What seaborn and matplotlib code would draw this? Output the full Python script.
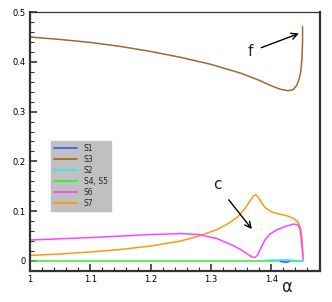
import numpy as np
import pandas as pd
import seaborn as sns
import matplotlib.pyplot as plt

# Curves (alpha vs value)
alpha_s3 = [1.0, 1.05, 1.1, 1.15, 1.2, 1.25, 1.3, 1.35, 1.38, 1.40, 1.415, 1.428,
            1.436, 1.442, 1.446, 1.449, 1.451, 1.452, 1.452]
s3 = [0.450, 0.445, 0.439, 0.431, 0.421, 0.409, 0.395, 0.377, 0.363, 0.352, 0.345, 0.342,
      0.344, 0.352, 0.364, 0.380, 0.405, 0.440, 0.471]

alpha_s7 = [1.0, 1.05, 1.1, 1.15, 1.2, 1.25, 1.28, 1.31, 1.33, 1.345, 1.357, 1.365, 1.37,
            1.374, 1.378, 1.383, 1.39, 1.40, 1.41, 1.426, 1.438, 1.445, 1.449, 1.451, 1.452, 1.453]
s7 = [0.011, 0.014, 0.018, 0.023, 0.030, 0.040, 0.050, 0.063, 0.076, 0.089, 0.106, 0.121, 0.130,
      0.133, 0.129, 0.119, 0.107, 0.099, 0.095, 0.091, 0.085, 0.077, 0.065, 0.045, 0.025, 0.012]

alpha_s6 = [1.0, 1.1, 1.2, 1.25, 1.28, 1.31, 1.337, 1.352, 1.362, 1.368, 1.373, 1.377, 1.383,
            1.39, 1.398, 1.41, 1.425, 1.437, 1.444, 1.448, 1.451, 1.453]
s6 = [0.042, 0.047, 0.053, 0.055, 0.053, 0.045, 0.031, 0.021, 0.013, 0.008, 0.007, 0.011, 0.026,
      0.043, 0.054, 0.063, 0.070, 0.074, 0.073, 0.062, 0.030, 0.002]

alpha_s45 = [1.0, 1.453]
s45 = [0.0, 0.0]

alpha_s2 = [1.39, 1.425, 1.453]
s2 = [0.0015, 0.002, 0.0]

alpha_s1 = [1.415, 1.425, 1.43]
s1 = [-0.001, -0.003, -0.001]

series = [
    ('S1', alpha_s1, s1, '#3366ff'),
    ('S3', alpha_s3, s3, '#9c6b30'),
    ('S2', alpha_s2, s2, '#33e8e8'),
    ('S4, S5', alpha_s45, s45, '#33ee33'),
    ('S6', alpha_s6, s6, '#ff44ff'),
    ('S7', alpha_s7, s7, '#ff9910'),
]

sns.set_style('ticks')
fig = plt.figure(figsize=(3.32, 3.02), dpi=100)
ax = fig.add_axes([0.09, 0.103, 0.874, 0.857])

# draw in back-to-front order so green/cyan sit on top near zero
draw_order = ['S3', 'S7', 'S6', 'S4, S5', 'S2', 'S1']
lookup = {name: (a, v, c) for name, a, v, c in series}
for name in draw_order:
    a, v, c = lookup[name]
    df = pd.DataFrame({'alpha': a, 'val': v})
    sns.lineplot(data=df, x='alpha', y='val', sort=False, estimator=None,
                 color=c, lw=1.1, ax=ax)

# legend in the same order as the reference
handles = [plt.Line2D([], [], color=c, lw=1.3) for _, _, _, c in series]
labels = [name for name, _, _, _ in series]
leg = ax.legend(handles, labels, loc='lower left', bbox_to_anchor=(0.058, 0.215),
                fontsize=5.5, frameon=True, fancybox=False, handlelength=3.0,
                labelspacing=0.26, borderpad=0.45, handletextpad=0.9)
leg.get_frame().set_facecolor('#c0c0c0')
leg.get_frame().set_edgecolor('#c0c0c0')
leg.get_frame().set_alpha(1)

# annotations
ax.annotate('f', xy=(1.446, 0.457), xytext=(1.365, 0.42), fontsize=11,
            ha='center', va='center',
            arrowprops=dict(arrowstyle='->', color='black', lw=1.0, shrinkA=4, shrinkB=0))
ax.annotate('c', xy=(1.368, 0.064), xytext=(1.31, 0.153), fontsize=11,
            ha='center', va='center',
            arrowprops=dict(arrowstyle='->', color='black', lw=1.0, shrinkA=5, shrinkB=0))

ax.set_xlim(1.0, 1.481)
ax.set_ylim(-0.02, 0.5)
ax.set_xticks([1.0, 1.1, 1.2, 1.3, 1.4])
ax.set_xticklabels(['1', '1.1', '1.2', '1.3', '1.4'])
ax.set_yticks([0, 0.1, 0.2, 0.3, 0.4, 0.5])
ax.set_yticklabels(['0', '0.1', '0.2', '0.3', '0.4', '0.5'])
ax.set_xticks(np.arange(1.02, 1.48, 0.02), minor=True)
ax.set_yticks(np.arange(0.02, 0.5, 0.02), minor=True)
ax.tick_params(which='major', direction='in', length=5, width=1.2, labelsize=6,
               color='#333333', labelcolor='black', pad=3)
ax.tick_params(which='minor', direction='in', length=3, width=0.8, color='#333333')

ax.set_xlabel('')
ax.set_ylabel('')
ax.text(0.886, -0.062, 'α', transform=ax.transAxes, fontsize=12,
        ha='center', va='center')

for side in ['left', 'right', 'bottom']:
    ax.spines[side].set_linewidth(1.6)
    ax.spines[side].set_color('#333333')
ax.spines['top'].set_linewidth(0.9)
ax.spines['top'].set_color('#333333')

fig.savefig('out.png', dpi=100)
